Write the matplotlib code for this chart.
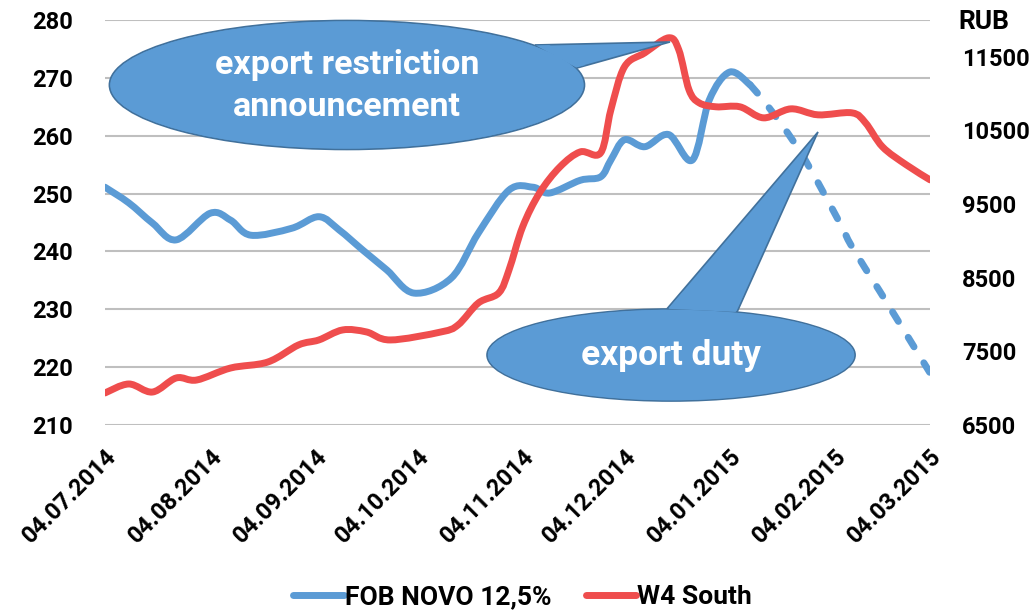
import matplotlib
matplotlib.use('Agg')
import matplotlib.pyplot as plt
import matplotlib.dates as mdates
from matplotlib.lines import Line2D
from matplotlib.path import Path
from matplotlib.patches import Ellipse, Polygon, PathPatch
import numpy as np
import pandas as pd

plt.rcParams['font.family'] = ['Roboto', 'DejaVu Sans']
plt.rcParams['font.weight'] = 'bold'

# FOB NOVO 12,5% (USD/t), actual
fob_dates = ['2014-07-04', '2014-07-11', '2014-07-18', '2014-07-25',
             '2014-08-04', '2014-08-10', '2014-08-16', '2014-08-28', '2014-09-05',
             '2014-09-11', '2014-09-18', '2014-09-25', '2014-10-03', '2014-10-14',
             '2014-10-22', '2014-10-31', '2014-11-07', '2014-11-12', '2014-11-21',
             '2014-11-27', '2014-11-30', '2014-12-04', '2014-12-10', '2014-12-17',
             '2014-12-24', '2014-12-29', '2015-01-04', '2015-01-10']
fob_usd = [251.1, 248.4, 244.9, 242.0,
           246.6, 245.4, 242.8, 244.0, 246.0,
           243.7, 240.2, 236.8, 232.8, 235.4,
           243.2, 250.6, 251.1, 250.1, 252.3,
           252.9, 255.8, 259.3, 258.1, 260.2,
           255.8, 266.2, 271.0, 268.8]

# FOB NOVO after the duty (dashed)
fob_fc_dates = ['2015-01-10', '2015-01-15', '2015-01-25', '2015-02-05', '2015-02-09',
                '2015-02-17', '2015-02-23', '2015-03-04']
fob_fc_usd = [268.8, 265.3, 257.0, 245.4, 240.8, 233.3, 227.6, 219.0]

# W4 South (RUB/t)
w4_dates = ['2014-07-04', '2014-07-11', '2014-07-18', '2014-07-25', '2014-07-31',
            '2014-08-10', '2014-08-21', '2014-08-30', '2014-09-05', '2014-09-12',
            '2014-09-19', '2014-09-26', '2014-10-11', '2014-10-16', '2014-10-22',
            '2014-10-28', '2014-10-31', '2014-11-04', '2014-11-09', '2014-11-15',
            '2014-11-21', '2014-11-27', '2014-11-30', '2014-12-04', '2014-12-10',
            '2014-12-17', '2014-12-20', '2014-12-23', '2014-12-26', '2014-12-31',
            '2015-01-07', '2015-01-14', '2015-01-22', '2015-01-30', '2015-02-09',
            '2015-02-13', '2015-02-18', '2015-02-25', '2015-03-04']
w4_rub = [6935, 7057, 6948, 7139, 7111,
          7274, 7356, 7587, 7655, 7791,
          7764, 7655, 7764, 7859, 8158,
          8294, 8606, 9190, 9652, 10005,
          10209, 10196, 10780, 11364, 11554,
          11758, 11595, 11052, 10875, 10821,
          10821, 10671, 10793, 10712, 10739,
          10603, 10277, 10033, 9829]

tick_dates = ['2014-07-04', '2014-08-04', '2014-09-04', '2014-10-04', '2014-11-04',
              '2014-12-04', '2015-01-04', '2015-02-04', '2015-03-04']

BLUE = '#5B9BD5'
RED = '#EF4D4D'
EDGE = '#41719C'


def smooth_path(dates, vals):
    # Catmull-Rom curve through the points, drawn as cubic beziers
    x = mdates.date2num(pd.to_datetime(dates))
    p = np.column_stack([x, vals]).astype(float)
    verts = [p[0]]
    codes = [Path.MOVETO]
    for i in range(len(p) - 1):
        p0 = p[i - 1] if i > 0 else p[i]
        p1, p2 = p[i], p[i + 1]
        p3 = p[i + 2] if i + 2 < len(p) else p[i + 1]
        verts += [p1 + (p2 - p0) / 6, p2 - (p3 - p1) / 6, p2]
        codes += [Path.CURVE4] * 3
    return Path(verts, codes)


fig = plt.figure(figsize=(10.35, 6.11), dpi=100)
ax = fig.add_axes([0.1014, 0.3044, 0.7972, 0.6629])
ax2 = ax.twinx()

ax.add_patch(PathPatch(smooth_path(fob_dates, fob_usd), fill=False, edgecolor=BLUE,
                       lw=5, capstyle='round', joinstyle='round', zorder=3))
ax.add_patch(PathPatch(smooth_path(fob_fc_dates, fob_fc_usd), fill=False, edgecolor=BLUE,
                       lw=5, linestyle=(0, (1.6, 2.7)), capstyle='round', zorder=3))
ax2.add_patch(PathPatch(smooth_path(w4_dates, w4_rub), fill=False, edgecolor=RED,
                        lw=5, capstyle='round', joinstyle='round', zorder=3))

ticks = pd.to_datetime(tick_dates)
ax.set_xlim(ticks[0], ticks[-1])
ax.set_ylim(210, 280)
ax.set_yticks(range(210, 281, 10))
ax2.set_ylim(6500, 12000)
ax2.set_yticks(range(6500, 12000, 1000))

ax.set_xticks(ticks)
ax.set_xticklabels([t.strftime('%d.%m.%Y') for t in ticks], rotation=45,
                   ha='right', va='top', rotation_mode='anchor')
ax.yaxis.grid(True, color='#BFBFBF', lw=1.5)
ax.set_axisbelow(True)
for a in (ax, ax2):
    for s in a.spines.values():
        s.set_visible(False)
    a.tick_params(length=0, labelsize=17, colors='black')
    for lab in a.get_xticklabels() + a.get_yticklabels():
        lab.set_fontweight('bold')
ax.tick_params(axis='y', pad=23)
ax.tick_params(axis='x', pad=14)
ax2.tick_params(axis='y', pad=23)
ax2.set_zorder(ax.get_zorder() + 1)
ax2.patch.set_visible(False)
fig.text(0.951, 0.964, 'RUB', fontsize=19, fontweight='bold', ha='center', va='center')


# callouts
def callout(center, w, h, base1, base2, tip, text, size, text_y):
    kw = dict(transform=ax.transAxes, clip_on=False, facecolor=BLUE)
    ax2.add_patch(Ellipse(center, w, h, edgecolor=EDGE, lw=1.2, zorder=5, **kw))
    ax2.add_patch(Polygon([base1, tip, base2], edgecolor=EDGE, lw=1.2, zorder=6, **kw))
    ax2.add_patch(Ellipse(center, w * 0.995, h * 0.985, edgecolor='none', zorder=7, **kw))
    mid = ((base1[0] + base2[0]) / 2, (base1[1] + base2[1]) / 2)
    inner = [(b[0] + (mid[0] - b[0]) * 0.04, b[1] + (mid[1] - b[1]) * 0.04) for b in (base1, base2)]
    push = [(b[0] + (tip[0] - b[0]) * 0.1, b[1] + (tip[1] - b[1]) * 0.1) for b in inner]
    ax2.add_patch(Polygon([inner[0], push[0], push[1], inner[1]], edgecolor='none', zorder=8, **kw))
    ax2.text(center[0], text_y, text, transform=ax.transAxes, ha='center', va='center',
             color='white', fontsize=size, fontweight='bold', linespacing=1.4, zorder=9)


callout((0.2933, 0.8395), 0.5758, 0.3185, (0.5212, 0.9383), (0.5721, 0.8815),
        (0.6848, 0.9457), 'export restriction\nannouncement', 24.5, 0.8370)
callout((0.6861, 0.1728), 0.4461, 0.2272, (0.6812, 0.2870), (0.7661, 0.2790),
        (0.8642, 0.7235), 'export duty', 25.5, 0.1728)

handles = [Line2D([], [], color=BLUE, lw=5, solid_capstyle='round'),
           Line2D([], [], color=RED, lw=5, solid_capstyle='round')]
fig.legend(handles, ['FOB NOVO 12,5%', 'W4 South'], loc='center', ncol=2,
           bbox_to_anchor=(0.505, 0.023), frameon=False,
           prop={'size': 19, 'weight': 'bold'},
           handlelength=1.9, handletextpad=0.05, columnspacing=1.3)

fig.savefig('out.png', dpi=100)
